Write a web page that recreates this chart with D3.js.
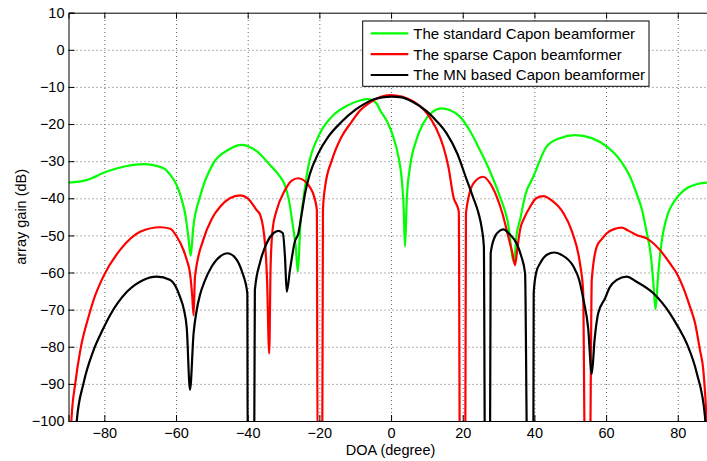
<!DOCTYPE html>
<html>
<head>
<meta charset="utf-8">
<script src="https://cdn.jsdelivr.net/npm/d3@7"></script>
<style>
  body { margin: 0; background: #fff; }
  svg { display: block; font-family: "Liberation Sans", Arial, sans-serif; }
</style>
</head>
<body>
<div class="container"></div>
<script>
// array gain (dB) vs DOA (degree)
// points below -100 just mean "the null drops out of the axes"
const standardCapon = [
  [-90, -35.8], [-85, -35.1], [-79.3, -32.8], [-73.7, -31.3], [-69.1, -30.8], [-63.5, -31.9],
  [-61.6, -33.7], [-59.8, -36.5], [-58.5, -40], [-57.3, -45], [-56.5, -51], [-55.9, -55.5],
  [-55.2, -48], [-53.3, -39.6], [-49.6, -30.6], [-45.5, -27], [-41.6, -25.6], [-37.5, -27.3],
  [-33.8, -31], [-31.5, -33.5], [-29.6, -36.5], [-28.5, -40.5], [-27.3, -48], [-26.6, -53],
  [-26, -59.8], [-25.3, -47], [-24.5, -40.5], [-23.1, -31.5], [-20.3, -23.4], [-16.5, -18],
  [-11.9, -14.9], [-8.5, -13.6], [-6.5, -13.3], [-4, -14.5], [-3.1, -16.2], [-1, -19.5],
  [0.6, -23.4], [2, -28.5], [3, -35], [3.5, -42], [3.9, -53], [4.4, -40], [5.3, -31.5],
  [7, -24.5], [9, -19.8], [11.5, -16.8], [14.1, -15.8], [16.5, -16.3], [19.2, -18],
  [22, -21.8], [24.8, -27], [27.5, -32.5], [30.4, -39.6], [32.5, -46], [34.3, -57.1],
  [35, -50], [36, -45.8], [37.5, -39], [39.7, -34.2], [43.4, -26.1], [47.1, -23.8],
  [51.3, -23], [56, -23.8], [60.2, -26.1], [63.9, -29.7], [66.7, -34.2], [68.5, -38.7],
  [70, -43], [71.3, -49], [72.5, -55.5], [73.2, -62.9], [73.8, -69.9], [74.5, -61.1],
  [75.2, -54], [75.9, -49.4], [77.3, -44], [78.7, -41.3], [80.5, -39], [82.5, -37.3],
  [85, -36.3], [88, -35.8], [90, -35.7]
];

const sparseCapon = [
  [-89.6, -110], [-89.2, -100], [-88.1, -89.8], [-86.7, -80.9], [-84.4, -71.9], [-83, -67.4],
  [-80.3, -61.1], [-75.6, -53.9], [-70, -49], [-64.4, -47.8], [-61.6, -48.2], [-59.8, -50.3],
  [-57.9, -54], [-57, -56.6], [-56.1, -60.2], [-55.5, -66], [-55.1, -71.5], [-54.7, -61],
  [-52.4, -51.2], [-50, -45.5], [-47.7, -42.3], [-45, -40], [-42.1, -39.2], [-40, -40],
  [-37.5, -43.2], [-36.5, -44.5], [-35.1, -53], [-34.6, -62], [-34, -81.8], [-33.6, -58],
  [-33, -48], [-32, -43.5], [-29.6, -37.8], [-27.8, -35.3], [-25.9, -34.6], [-23.1, -36.4],
  [-21.2, -40.5], [-20.7, -43.2], [-20.5, -110], [-19.2, -110], [-19, -43], [-18.4, -36.9],
  [-16.5, -29.7], [-13.8, -23.4], [-11, -19.4], [-8.6, -16.3], [-5.9, -14.2], [-3, -12.7],
  [-0.3, -12.2], [3, -12.6], [6, -13.8], [10, -17.1], [12.5, -21], [14.6, -26.1],
  [16, -31.5], [17.4, -39.6], [18.9, -43.5], [19.2, -110], [20.7, -110], [20.9, -44],
  [23, -36], [25.7, -34.2], [27.5, -35.8], [29.5, -39.6], [31.2, -44.5], [32.7, -50.3],
  [33.8, -54.5], [34.6, -58], [35.3, -53], [36, -48.5], [37.3, -45], [38.8, -42.3],
  [40.5, -40], [42.5, -39.4], [45, -40.7], [48.1, -44], [50.5, -49], [52.7, -57.5],
  [53.6, -65], [54.1, -110], [55.5, -110], [56, -62], [57.4, -53], [58.8, -51],
  [60.2, -49.4], [62.2, -48.3], [64.4, -47.9], [66, -48.6], [68.5, -49.9], [71.3, -50.8],
  [75, -53.9], [77.8, -57.5], [79.7, -60.2], [81.5, -64], [83.4, -69.2], [84.8, -73.5],
  [86.2, -80.9], [87.1, -86], [87.9, -97], [88.5, -110]
];

const mnCapon = [
  [-88, -110], [-87.7, -100], [-85.8, -89.8], [-83, -80.9], [-80.5, -75.5], [-78.4, -71.5],
  [-73.7, -65.2], [-69.1, -62], [-65.4, -61.1], [-61.6, -62], [-58.9, -66.5], [-57.8, -70],
  [-57, -75], [-56.1, -91.6], [-55.1, -76.4], [-54.3, -70.5], [-53.3, -66], [-52, -62.3],
  [-50, -58.3], [-47.5, -55.5], [-45.7, -54.8], [-43.5, -56], [-41.5, -60], [-40.1, -65.6],
  [-40, -110], [-38.2, -110], [-38, -64.7], [-36.5, -57.1], [-34.7, -52.1], [-32.8, -49.4],
  [-31.4, -48.8], [-30.2, -49.4], [-29.6, -55.7], [-29.1, -65.2], [-28.2, -59.3], [-26.8, -51.5],
  [-25.9, -49.6], [-24.9, -44], [-24, -38.7], [-22.6, -33.3], [-20.3, -27.9], [-17.5, -23.4],
  [-13.8, -19.4], [-10, -16.2], [-7.3, -14.5], [-5, -13.4], [-2.5, -12.8], [0.2, -12.6],
  [3, -12.8], [6, -14], [10, -16.6], [13, -19.5], [15.5, -22.5], [18.5, -28],
  [21.1, -35], [22.8, -39.5], [24.4, -44], [25.3, -48], [25.9, -53], [26.2, -110],
  [27.6, -110], [27.8, -54.8], [29, -50.3], [30, -49], [31.3, -48.4], [33.2, -49.8],
  [35, -52.1], [36.3, -55.5], [37.4, -60.2], [38, -110], [39.7, -110], [39.8, -65.6],
  [40.5, -60], [41.6, -57.5], [43.5, -55.2], [45.5, -54.6], [47.5, -55.2], [50.9, -58.4],
  [52.5, -62], [53.7, -67.4], [55, -75], [56, -87.3], [56.8, -78], [57.8, -71],
  [59.7, -67], [61, -64], [63, -62], [65.7, -61.1], [68.5, -62.5], [73.2, -65.6],
  [77.8, -71], [80, -74.5], [82.5, -79.1], [85.3, -87.1], [87.6, -98.8], [88, -110]
];

const seriesNames = ['The standard Capon beamformer', 'The sparse Capon beamformer', 'The MN based Capon beamformer'];
const seriesColors = ['#00ff00', '#ff0000', '#000000'];
const xTicks = [-80, -60, -40, -20, 0, 20, 40, 60, 80];
const yTicks = [10, 0, -10, -20, -30, -40, -50, -60, -70, -80, -90, -100];

const W = 707, H = 461;
const plotLeft = 68.5, plotTop = 12.7, plotBottom = 421, plotRight = 713.6;

const svg = d3.select('.container')
  .append('svg')
  .attr('width', W)
  .attr('height', H);

const x = d3.scaleLinear().domain([-90, 90]).range([plotLeft, plotRight]);
const y = d3.scaleLinear().domain([-100, 10]).range([plotBottom, plotTop]);

// dotted grid
const grid = svg.append('g').attr('class', 'grid');
grid.append('g')
  .attr('transform', `translate(0,${plotBottom})`)
  .call(d3.axisBottom(x).tickValues(xTicks).tickSize(-(plotBottom - plotTop)).tickFormat(''));
grid.append('g')
  .attr('transform', `translate(${plotLeft},0)`)
  .call(d3.axisLeft(y).tickValues(yTicks.slice(1, -1)).tickSize(-(plotRight - plotLeft)).tickFormat(''));
grid.selectAll('.domain').remove();
grid.selectAll('line')
  .attr('stroke', '#666')
  .attr('stroke-width', 1)
  .attr('stroke-dasharray', '1,3');

// curves
svg.append('clipPath').attr('id', 'plot')
  .append('rect')
  .attr('x', plotLeft).attr('y', plotTop)
  .attr('width', plotRight - plotLeft).attr('height', plotBottom - plotTop);

const line = d3.line()
  .x(d => x(d[0]))
  .y(d => y(d[1]))
  .curve(d3.curveMonotoneX);

const curves = svg.append('g').attr('clip-path', 'url(#plot)');
[standardCapon, sparseCapon, mnCapon].forEach((s, i) => {
  curves.append('path')
    .datum(s)
    .attr('d', line)
    .attr('fill', 'none')
    .attr('stroke', seriesColors[i])
    .attr('stroke-width', 2.2)
    .attr('stroke-linejoin', 'round');
});

// axes, ticks inside
const xAxis = svg.append('g')
  .attr('transform', `translate(0,${plotBottom})`)
  .call(d3.axisBottom(x).tickValues(xTicks).tickSize(-6).tickPadding(7));
const xTop = svg.append('g')
  .attr('transform', `translate(0,${plotTop})`)
  .call(d3.axisTop(x).tickValues(xTicks).tickSize(-6).tickFormat(''));
const yAxis = svg.append('g')
  .attr('transform', `translate(${plotLeft},0)`)
  .call(d3.axisLeft(y).tickValues(yTicks).tickSize(-6).tickPadding(4));

[xAxis, xTop, yAxis].forEach(g => {
  g.selectAll('path.domain').attr('stroke', '#000').attr('stroke-width', 1);
  g.selectAll('line').attr('stroke', '#000');
  g.selectAll('text')
    .attr('fill', '#000')
    .style('font-size', '14.5px')
    .style('font-family', '"Liberation Sans", Arial, sans-serif');
});

// axis titles
svg.append('text')
  .attr('x', (plotLeft + plotRight) / 2 - 0.5)
  .attr('y', 455)
  .attr('text-anchor', 'middle')
  .style('font-size', '14.5px')
  .text('DOA (degree)');

svg.append('text')
  .attr('transform', `translate(26,${(plotTop + plotBottom) / 2}) rotate(-90)`)
  .attr('text-anchor', 'middle')
  .style('font-size', '14.5px')
  .text('array gain (dB)');

// legend
const lg = svg.append('g');
lg.append('rect')
  .attr('x', 362.7).attr('y', 21)
  .attr('width', 286.3).attr('height', 65.3)
  .attr('fill', '#fff')
  .attr('stroke', '#000')
  .attr('stroke-width', 1);

seriesNames.forEach((name, i) => {
  const ly = 33.3 + i * 20.85;
  lg.append('line')
    .attr('x1', 370.7).attr('x2', 408.3)
    .attr('y1', ly).attr('y2', ly)
    .attr('stroke', seriesColors[i])
    .attr('stroke-width', 2.2);
  lg.append('text')
    .attr('x', 413.3)
    .attr('y', ly)
    .attr('dy', '0.36em')
    .style('font-size', '15px')
    .text(name);
});
</script>
</body>
</html>
